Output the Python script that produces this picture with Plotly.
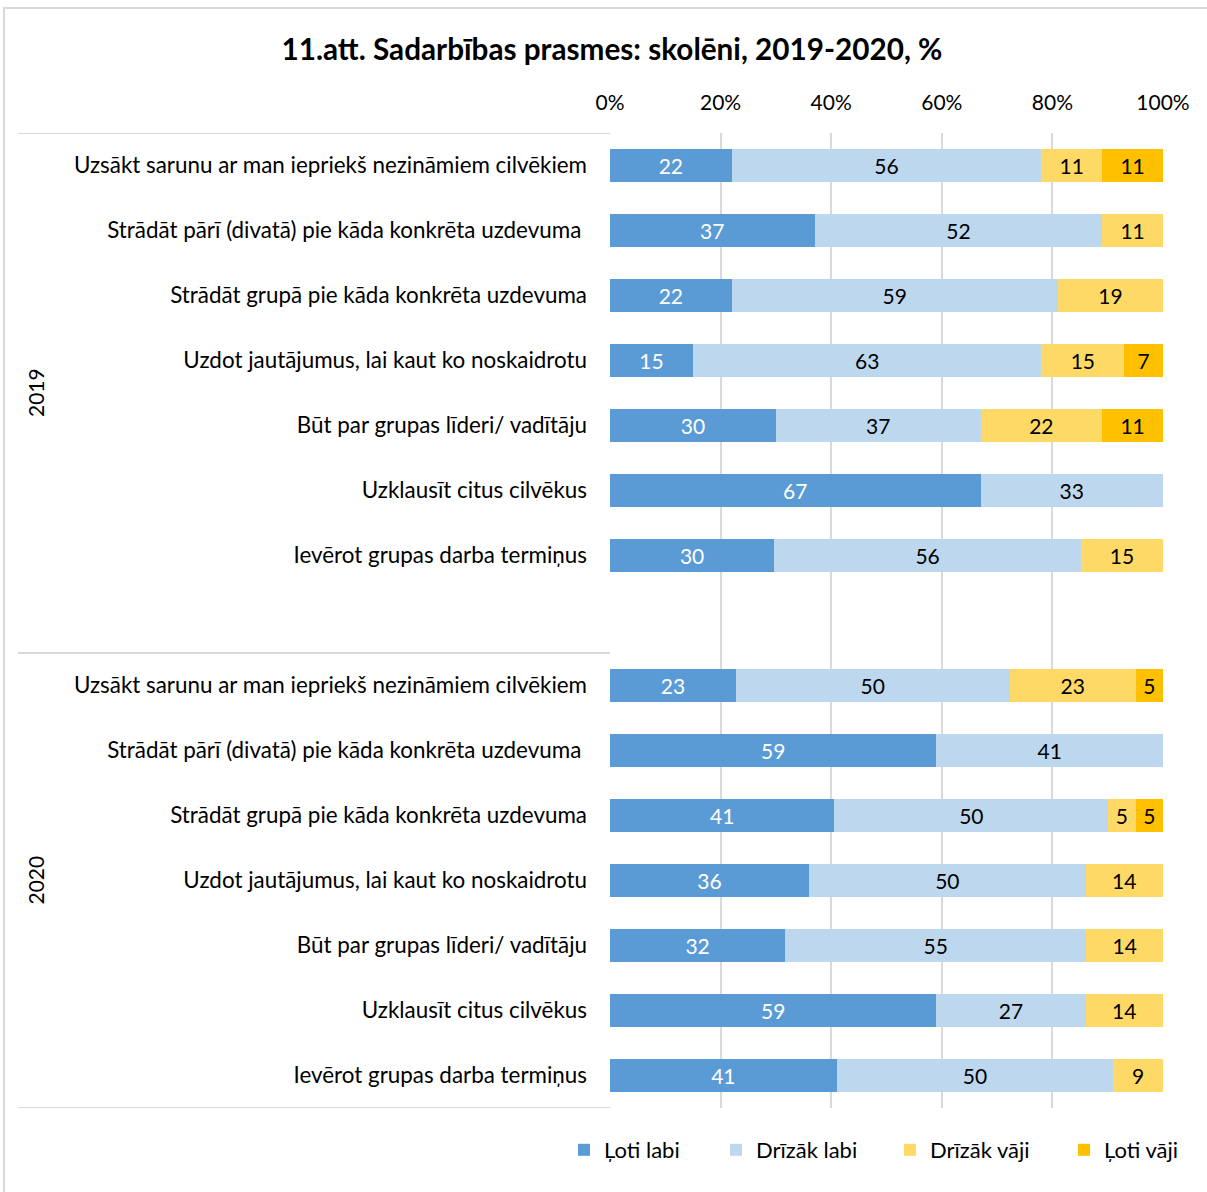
import plotly.graph_objects as go

# ---- data ----
statements = [
    "Uzsākt sarunu ar man iepriekš nezināmiem cilvēkiem",
    "Strādāt pārī (divatā) pie kāda konkrēta uzdevuma ",
    "Strādāt grupā pie kāda konkrēta uzdevuma",
    "Uzdot jautājumus, lai kaut ko noskaidrotu",
    "Būt par grupas līderi/ vadītāju",
    "Uzklausīt citus cilvēkus",
    "Ievērot grupas darba termiņus",
]
years = ["2019", "2020"]
series_names = ["Ļoti labi", "Drīzāk labi", "Drīzāk vāji", "Ļoti vāji"]
x_tick_values = [0, 20, 40, 60, 80, 100]
x_tick_labels = ["0%", "20%", "40%", "60%", "80%", "100%"]

loti_labi_2019 = [22, 37, 22, 15, 30, 67, 30]
drizak_labi_2019 = [56, 52, 59, 63, 37, 33, 56]
drizak_vaji_2019 = [11, 11, 19, 15, 22, None, 15]
loti_vaji_2019 = [11, None, None, 7, 11, None, None]

loti_labi_2020 = [23, 59, 41, 36, 32, 59, 41]
drizak_labi_2020 = [50, 41, 50, 50, 55, 27, 50]
drizak_vaji_2020 = [23, None, 5, 14, 14, 14, 9]
loti_vaji_2020 = [5, None, 5, None, None, None, None]

colors = ["#5B9BD5", "#BDD7EE", "#FFD966", "#FFC000"]
text_colors = ["white", "black", "black", "black"]

# ---- row positions: 7 rows for 2019, one blank slot, 7 rows for 2020 ----
n = len(statements)
y_2019 = list(range(n))
y_2020 = list(range(n + 1, 2 * n + 1))
y_all = y_2019 + y_2020
tick_text = statements + statements

s2019 = [loti_labi_2019, drizak_labi_2019, drizak_vaji_2019, loti_vaji_2019]
s2020 = [loti_labi_2020, drizak_labi_2020, drizak_vaji_2020, loti_vaji_2020]

FONT = "Lato, Calibri, Carlito, sans-serif"

# plot area geometry (pixels)
W, H = 1207, 1192
L, R, T, B = 610, 1163, 133, 1108
pw, ph = R - L, B - T

def px_x(px):
    return (px - L) / pw

def px_y(py):
    return (B - py) / ph

legend_ids = ["legend", "legend2", "legend3", "legend4"]
legend_x_px = [564, 716, 890, 1064]

fig = go.Figure()
for i, name in enumerate(series_names):
    vals = s2019[i] + s2020[i]
    fig.add_trace(go.Bar(
        y=y_all,
        x=[v if v is not None else 0 for v in vals],
        orientation="h",
        name=name,
        legend=legend_ids[i],
        showlegend=True,
        marker=dict(color=colors[i], line=dict(width=0)),
        text=[str(v) if v is not None else "" for v in vals],
        textposition="inside",
        insidetextanchor="middle",
        textangle=0,
        textfont=dict(size=21, color=text_colors[i], family=FONT),
        hoverinfo="skip",
    ))

shapes = []
# outer chart border
shapes.append(dict(type="rect", xref="paper", yref="paper",
                   x0=px_x(4), x1=px_x(1215), y0=px_y(1200), y1=px_y(8),
                   line=dict(color="#D9D9D9", width=2), layer="below"))
# group divider lines in the category area
for yv in [-0.5, n + 0.5, 2 * n + 0.5]:
    shapes.append(dict(type="line", xref="paper", yref="y",
                       x0=px_x(18), x1=0, y0=yv, y1=yv,
                       line=dict(color="#D9D9D9", width=2), layer="below"))

annotations = [
    dict(text=years[0], xref="paper", yref="y", x=px_x(35), y=(-0.5 + n + 0.5) / 2,
         xanchor="center", yanchor="middle",
         textangle=-90, showarrow=False, font=dict(size=21, color="black", family=FONT)),
    dict(text=years[1], xref="paper", yref="y", x=px_x(35), y=(n + 0.5 + 2 * n + 0.5) / 2,
         xanchor="center", yanchor="middle",
         textangle=-90, showarrow=False, font=dict(size=21, color="black", family=FONT)),
]

legend_layouts = {}
for lid, lx in zip(legend_ids, legend_x_px):
    legend_layouts[lid] = dict(
        orientation="h", x=px_x(lx), xanchor="left", y=px_y(1150), yanchor="middle",
        font=dict(size=22, color="black", family=FONT),
        itemwidth=30, bgcolor="rgba(0,0,0,0)", visible=True)

fig.update_layout(
    width=W, height=H,
    showlegend=True,
    barmode="stack", barnorm="percent", bargap=0.5,
    paper_bgcolor="white", plot_bgcolor="white",
    margin=dict(l=L, r=W - R, t=T, b=H - B, pad=0),
    title=dict(text="<b>11.att. Sadarbības prasmes: skolēni, 2019-2020, %</b>",
               x=0.507, xanchor="center", y=1 - 50 / H, yanchor="middle",
               font=dict(size=29.7, color="black", family=FONT)),
    font=dict(family=FONT, size=21, color="black"),
    xaxis=dict(side="top", range=[0, 100], tickvals=x_tick_values,
               ticktext=x_tick_labels,
               showgrid=True, gridcolor="#D9D9D9", gridwidth=2,
               zeroline=False, showline=False, ticks="", ticklabelstandoff=18,
               tickfont=dict(size=21, color="black", family=FONT), fixedrange=True),
    yaxis=dict(range=[2 * n + 0.5, -0.5], tickvals=y_all, ticktext=tick_text,
               showgrid=False, zeroline=False, showline=False, ticks="",
               ticklabelstandoff=22,
               tickfont=dict(size=22.4, color="black", family=FONT), fixedrange=True),
    uniformtext=dict(minsize=21, mode="show"),
    shapes=shapes,
    annotations=annotations,
    **legend_layouts,
)

fig.write_html("out.html", config={"displayModeBar": False},
               post_script="document.body.style.margin='0';document.body.style.overflow='hidden';")
